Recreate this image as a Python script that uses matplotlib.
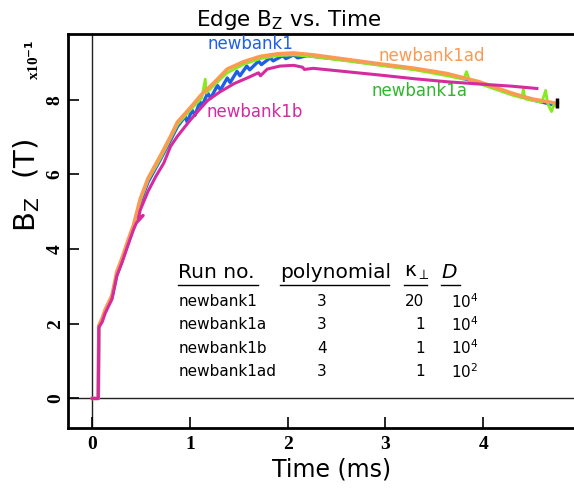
import numpy as np
import matplotlib
matplotlib.use('Agg')
import matplotlib.pyplot as plt

plt.rcParams['mathtext.default'] = 'regular'

# time (ms) and edge Bz (x10^-1 T)
t_1 = [0.0, 0.06, 0.065, 0.10, 0.13, 0.20, 0.25, 0.30, 0.37, 0.42, 0.49, 0.57, 0.70,
       0.80, 0.87, 0.95, 0.97, 1.02, 1.05, 1.10, 1.12, 1.18, 1.21, 1.28, 1.31, 1.38,
       1.41, 1.48, 1.51, 1.58, 1.61, 1.70, 1.73, 1.82, 1.85, 1.95, 1.98, 2.06, 2.10,
       2.20, 2.26, 2.60, 2.94, 3.30, 3.63, 3.96, 4.30, 4.50, 4.72]
b_1 = [0.0, 0.0, 1.92, 2.12, 2.33, 2.70, 3.32, 3.66, 4.20, 4.56, 5.25, 5.80, 6.42,
       6.92, 7.28, 7.55, 7.40, 7.72, 7.58, 7.95, 7.82, 8.18, 8.04, 8.38, 8.26, 8.58,
       8.46, 8.76, 8.64, 8.90, 8.80, 9.03, 8.94, 9.12, 9.04, 9.18, 9.10, 9.20, 9.12,
       9.18, 9.16, 9.06, 8.94, 8.82, 8.68, 8.46, 8.15, 8.00, 7.86]

t_1a = [0.0, 0.06, 0.065, 0.13, 0.20, 0.25, 0.30, 0.37, 0.42, 0.49, 0.57, 0.70, 0.87,
        1.00, 1.12, 1.155, 1.165, 1.25, 1.38, 1.55, 1.72, 1.90, 2.06, 2.26, 2.60, 2.94,
        3.30, 3.63, 3.80, 3.83, 3.86, 3.96, 4.30, 4.40, 4.41, 4.43, 4.60, 4.64, 4.66,
        4.70, 4.72, 4.76]
b_1a = [0.0, 0.0, 1.93, 2.35, 2.72, 3.35, 3.70, 4.23, 4.60, 5.30, 5.85, 6.45, 7.33,
        7.72, 8.05, 8.55, 8.18, 8.40, 8.72, 8.95, 9.10, 9.18, 9.20, 9.15, 9.04, 8.92,
        8.80, 8.64, 8.55, 8.75, 8.50, 8.43, 8.12, 8.05, 8.28, 8.02, 7.93, 8.25, 7.90,
        7.68, 7.85, 7.82]

t_1b = [0.0, 0.06, 0.065, 0.10, 0.13, 0.20, 0.25, 0.30, 0.37, 0.42, 0.45, 0.52, 0.47,
        0.49, 0.57, 0.65, 0.73, 0.80, 0.87, 1.00, 1.10, 1.18, 1.30, 1.45, 1.60, 1.70,
        1.72, 1.79, 1.92, 2.06, 2.15, 2.17, 2.26, 2.60, 2.94, 3.30, 3.63, 3.96, 4.30,
        4.55]
b_1b = [0.0, 0.0, 1.90, 2.05, 2.28, 2.66, 3.28, 3.62, 4.15, 4.52, 4.70, 4.90, 4.82,
        5.05, 5.55, 5.95, 6.30, 6.75, 7.02, 7.45, 7.75, 7.98, 8.20, 8.43, 8.60, 8.72,
        8.64, 8.82, 8.90, 8.92, 8.87, 8.81, 8.84, 8.75, 8.66, 8.56, 8.48, 8.42, 8.36,
        8.30]

t_1ad = [0.0, 0.06, 0.065, 0.10, 0.13, 0.20, 0.25, 0.30, 0.37, 0.42, 0.49, 0.57, 0.70,
         0.80, 0.87, 1.00, 1.11, 1.25, 1.38, 1.55, 1.72, 1.90, 2.06, 2.26, 2.60, 2.94,
         3.30, 3.63, 3.96, 4.30, 4.50, 4.76]
b_1ad = [0.0, 0.0, 1.95, 2.15, 2.38, 2.76, 3.40, 3.74, 4.28, 4.64, 5.35, 5.90, 6.52,
         7.02, 7.40, 7.78, 8.12, 8.47, 8.82, 9.02, 9.16, 9.23, 9.25, 9.20, 9.08, 8.96,
         8.84, 8.70, 8.48, 8.17, 8.02, 7.90]

runs = ['newbank1', 'newbank1a', 'newbank1b', 'newbank1ad']
poly = ['3', '3', '4', '3']
kappa = ['20', '1', '1', '1']
dcoef = ['$10^4$', '$10^4$', '$10^4$', '$10^2$']

c_blue = '#1f5fe6'
c_green_line = '#86ea1c'
c_green_txt = '#2fb82a'
c_orange = '#fb9a52'
c_mag = '#d42b9f'

fig = plt.figure(figsize=(5.74, 4.95), dpi=100)
ax = fig.add_axes([0.1185, 0.1354, 0.8815, 0.7960])

ax.axhline(0, color='#222222', lw=1.0, zorder=1)
ax.axvline(0, color='#222222', lw=1.0, zorder=1)

ax.plot(t_1, b_1, color=c_blue, lw=2.4, zorder=3)
ax.plot(t_1a, b_1a, color=c_green_line, lw=2.0, zorder=4)
ax.plot(t_1ad, b_1ad, color=c_orange, lw=2.6, zorder=5)
ax.plot(t_1b, b_1b, color=c_mag, lw=2.2, zorder=6)
ax.plot([t_1ad[-1]], [b_1ad[-1]], marker='|', color='black', ms=7, mew=2.5, zorder=7)

ax.set_xlim(-0.25, 4.93)
ax.set_ylim(-0.79, 9.76)
ax.set_xticks([0, 1, 2, 3, 4])
ax.set_yticks([0, 2, 4, 6, 8])
ax.tick_params(direction='in', length=8, width=1.2, pad=6)
ax.tick_params(axis='y', pad=3)
for s in ['left', 'bottom', 'top']:
    ax.spines[s].set_linewidth(2.0)
ax.spines['right'].set_visible(False)

for lab in ax.get_xticklabels():
    lab.set_fontfamily('Liberation Serif')
    lab.set_fontweight('bold')
    lab.set_fontsize(14)
for lab in ax.get_yticklabels():
    lab.set_fontfamily('Liberation Serif')
    lab.set_fontweight('bold')
    lab.set_fontsize(14)
    lab.set_rotation(90)
    lab.set_va('center')

ax.set_xlabel('Time (ms)', fontsize=17, labelpad=6)
ax.xaxis.set_label_coords(0.52, -0.075)
ax.set_ylabel('B$_{Z}$  (T)', fontsize=21)
ax.yaxis.set_label_coords(-0.052, 0.617)
ax.set_title('Edge B$_{Z}$ vs. Time', fontsize=15.5, pad=6, x=0.437)

fig.text(0.058, 0.88, r'x10$^{\mathbf{-1}}$', rotation=90, fontsize=11,
         fontfamily='Liberation Serif', fontweight='bold', ha='center', va='center')

# curve labels
ax.text(1.18, 9.35, runs[0], color=c_blue, fontsize=12)
ax.text(2.93, 9.03, runs[3], color=c_orange, fontsize=12)
ax.text(2.86, 8.1, runs[1], color=c_green_txt, fontsize=12)
ax.text(1.17, 7.54, runs[2], color=c_mag, fontsize=12)

# parameter table
hy = 3.37
ax.text(0.88, hy, 'Run no.', fontsize=14.5, va='center')
ax.text(1.92, hy, 'polynomial', fontsize=14.5, va='center')
ax.text(3.19, hy, r'$\kappa_{\perp}$', fontsize=14.5, va='center')
ax.text(3.57, hy, 'D', fontsize=14.5, style='italic', va='center')
uy = hy - 0.33
ax.plot([0.88, 1.70], [uy, uy], color='black', lw=1)
ax.plot([1.92, 3.04], [uy, uy], color='black', lw=1)
ax.plot([3.19, 3.42], [uy, uy], color='black', lw=1)
ax.plot([3.57, 3.76], [uy, uy], color='black', lw=1)

row_y = [2.60, 1.98, 1.35, 0.72]
for i in range(len(runs)):
    ax.text(0.88, row_y[i], runs[i], fontsize=11, va='center')
    ax.text(2.35, row_y[i], poly[i], fontsize=11, va='center', ha='center')
    ax.text(3.40, row_y[i], kappa[i], fontsize=11, va='center', ha='right')
    ax.text(3.67, row_y[i], dcoef[i], fontsize=11, va='center', ha='left')

fig.savefig('out.png', dpi=100)
